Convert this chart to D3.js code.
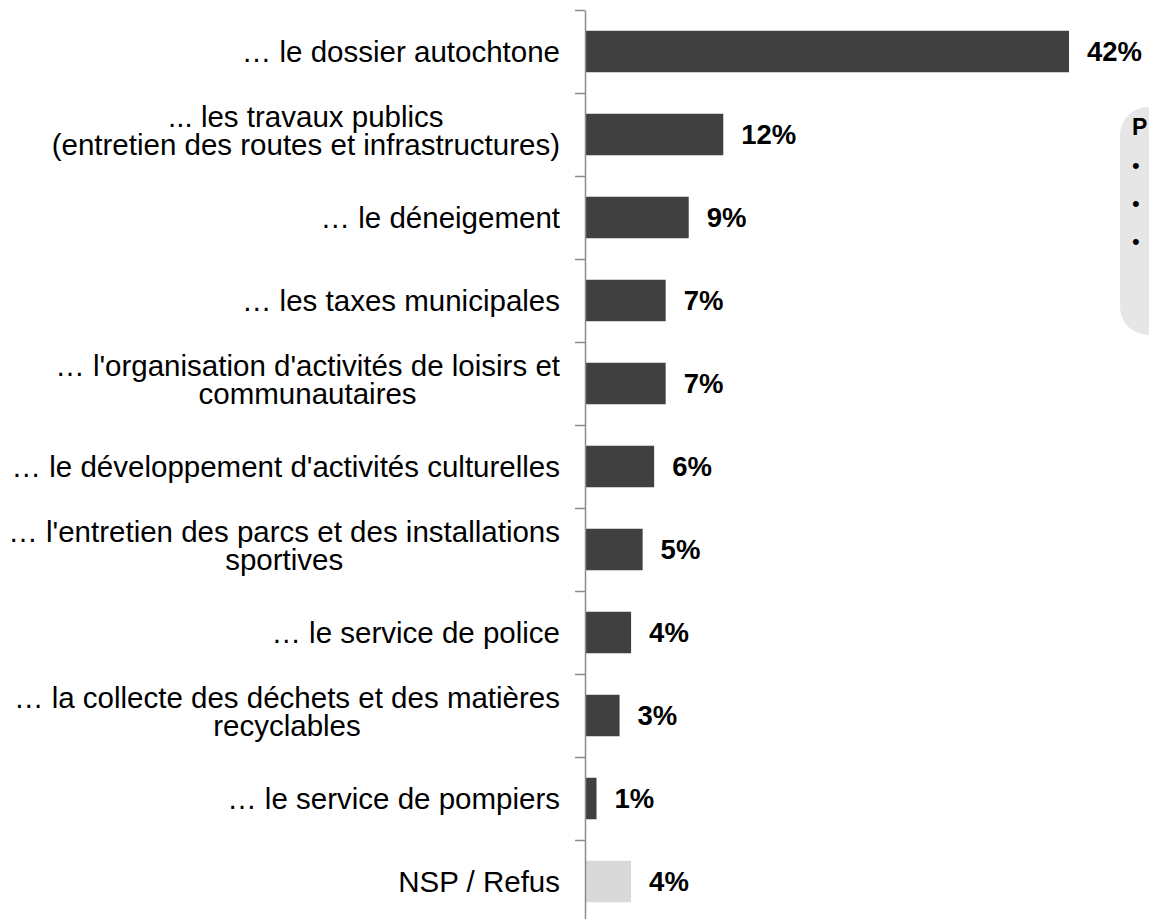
<!DOCTYPE html>
<html>
<head>
<meta charset="utf-8">
<script src="https://cdn.jsdelivr.net/npm/d3@7"></script>
<style>
  body { margin: 0; background: #fff; }
  svg { display: block; font-family: Arial, "Liberation Sans", sans-serif; }
</style>
</head>
<body>
<div id="main"></div>
<script>
const ctx = {
    width: 1149,
    height: 919,
    axisX: 585,
    top: 10,
    step: 83
};

// one entry per row, "\n" splits the label over two lines
const categories = [
    "… le dossier autochtone",
    "... les travaux publics\n(entretien des routes et infrastructures)",
    "… le déneigement",
    "… les taxes municipales",
    "… l'organisation d'activités de loisirs et\ncommunautaires",
    "… le développement d'activités culturelles",
    "… l'entretien des parcs et des installations\nsportives",
    "… le service de police",
    "… la collecte des déchets et des matières\nrecyclables",
    "… le service de pompiers",
    "NSP / Refus"
];
const values = [42, 12, 9, 7, 7, 6, 5, 4, 3, 1, 4];
const isNsp = [false, false, false, false, false, false, false, false, false, false, true];
const boxTitle = "P";
const boxBullets = ["•", "•", "•"];

function createViz() {
    const svg = d3.select("#main").append("svg")
        .attr("width", ctx.width)
        .attr("height", ctx.height);

    const n = categories.length;
    const y = d3.scaleBand()
        .domain(d3.range(n))
        .range([ctx.top, ctx.top + ctx.step * n])
        .paddingInner(0).paddingOuter(0);

    const x = d3.scaleLinear()
        .domain([0, 42])
        .range([ctx.axisX, ctx.axisX + 484]);

    const barH = y.bandwidth() * 0.5;

    // bars
    svg.selectAll(".bar")
        .data(values)
        .enter()
        .append("rect")
        .attr("class", "bar")
        .attr("x", x(0))
        .attr("y", (d, i) => y(i) + (y.bandwidth() - barH) / 2)
        .attr("width", d => x(d) - x(0))
        .attr("height", barH)
        .style("fill", (d, i) => isNsp[i] ? "#d9d9d9" : "#404040");

    // value labels
    svg.selectAll(".val")
        .data(values)
        .enter()
        .append("text")
        .attr("class", "val")
        .attr("x", d => x(d) + 18)
        .attr("y", (d, i) => y(i) + y.bandwidth() / 2)
        .attr("dy", "0.36em")
        .style("font-size", "27.5px")
        .style("font-weight", "bold")
        .style("fill", "#000")
        .text(d => `${d}%`);

    // axis: ticks sit on the band boundaries
    const yIdx = d3.scaleLinear().domain([0, n]).range([ctx.top, ctx.top + ctx.step * n]);
    const axis = svg.append("g")
        .attr("transform", `translate(${ctx.axisX},0)`)
        .call(d3.axisLeft(yIdx)
            .tickValues(d3.range(n))
            .tickSize(10)
            .tickSizeOuter(0)
            .tickFormat(""));
    axis.select(".domain").attr("stroke", "#8c8c8c").attr("stroke-width", 1.5);
    axis.selectAll(".tick line").attr("stroke", "#8c8c8c").attr("stroke-width", 1.5);

    // category labels: block right-aligned, lines centred inside the block
    const rightX = ctx.axisX - 25;
    const lineH = 27.6;
    const lab = svg.selectAll(".cat")
        .data(categories)
        .enter()
        .append("text")
        .attr("class", "cat")
        .attr("text-anchor", "middle")
        .style("font-size", "29.5px")
        .style("fill", "#000")
        .attr("transform", (d, i) => `translate(0,${y(i) + y.bandwidth() / 2})`);

    lab.each(function(d) {
        const lines = d.split("\n");
        const t = d3.select(this);
        const shift = lines.length > 1 ? -4 : 0; // two-line blocks sit a little high
        const spans = lines.map((l, k) => t.append("tspan")
                .attr("y", (k - (lines.length - 1) / 2) * lineH + shift)
                .attr("dy", "0.36em")
                .text(l));
        const w = d3.max(spans, s => s.node().getComputedTextLength());
        spans.forEach(s => s.attr("x", rightX - w / 2));
    });

    // side box (cut off by the page edge)
    const box = svg.append("g").attr("transform", "translate(1120,107)");
    box.append("rect")
        .attr("width", 120)
        .attr("height", 228)
        .attr("rx", 28)
        .style("fill", "#e6e6e6");
    box.append("text")
        .attr("x", 12)
        .attr("y", 28)
        .style("font-size", "23px")
        .style("font-weight", "bold")
        .text(boxTitle);
    box.selectAll(".bul")
        .data(boxBullets)
        .enter()
        .append("text")
        .attr("class", "bul")
        .attr("x", 12)
        .attr("y", (d, i) => 58 + i * 38)
        .attr("dy", "0.36em")
        .style("font-size", "22px")
        .text(d => d);
}

createViz();
</script>
</body>
</html>
